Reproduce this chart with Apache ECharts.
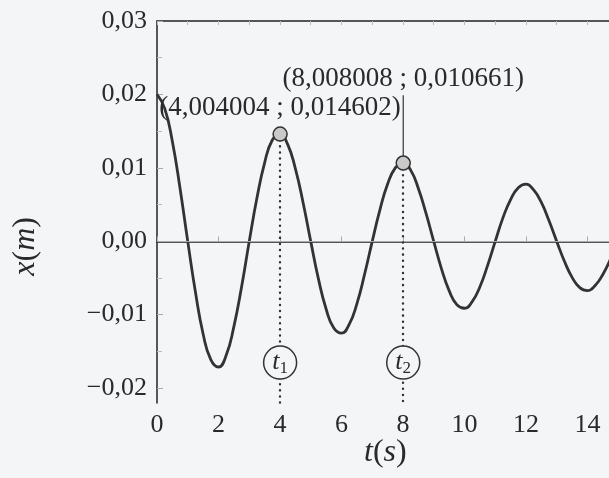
<!DOCTYPE html>
<html>
<head>
<meta charset="utf-8">
<script src="https://cdn.jsdelivr.net/npm/echarts@6/dist/echarts.min.js"></script>
<style>
    html, body { margin: 0; padding: 0; background: #f4f5f7; }
    #chart { width: 609px; height: 478px; }
</style>
</head>
<body>
<div id="chart"></div>
<script>
    // temps (s), pas de 0,25 s
    var tValues = [
        0, 0.25, 0.5, 0.75, 1, 1.25, 1.5, 1.75, 2, 2.25, 2.5, 2.75, 3, 3.25, 3.5, 3.75,
        4, 4.25, 4.5, 4.75, 5, 5.25, 5.5, 5.75, 6, 6.25, 6.5, 6.75, 7, 7.25, 7.5, 7.75,
        8, 8.25, 8.5, 8.75, 9, 9.25, 9.5, 9.75, 10, 10.25, 10.5, 10.75, 11, 11.25, 11.5, 11.75,
        12, 12.25, 12.5, 12.75, 13, 13.25, 13.5, 13.75, 14, 14.25, 14.5, 14.75, 15
    ];
    // élongation x (m)
    var xValues = [
        0.0200, 0.0181, 0.0136, 0.0072, 0.0000, -0.0069, -0.0126, -0.0161,
        -0.0171, -0.0155, -0.0116, -0.0062, 0.0000, 0.0059, 0.0107, 0.0138,
        0.0146, 0.0132, 0.0099, 0.0053, 0.0000, -0.0051, -0.0092, -0.0118,
        -0.0125, -0.0113, -0.0085, -0.0045, 0.0000, 0.0043, 0.0078, 0.0100,
        0.0107, 0.0097, 0.0072, 0.0038, 0.0000, -0.0037, -0.0067, -0.0086,
        -0.0091, -0.0082, -0.0062, -0.0033, 0.0000, 0.0032, 0.0057, 0.0073,
        0.0078, 0.0070, 0.0053, 0.0028, 0.0000, -0.0027, -0.0049, -0.0063,
        -0.0067, -0.0060, -0.0045, -0.0024, 0.0000
    ];
    // maxima repérés
    var peakT = [4.004004, 8.008008];
    var peakX = [0.014602, 0.010661];
    var peakNames = ['1', '2'];
    var xTickLabels = ['0', '2', '4', '6', '8', '10', '12', '14'];

    var serif = 'Liberation Serif';
    var ink = '#2a2a2a';
    var bg = '#f4f5f7';

    function fmt(v, d) {
        var s = Math.abs(v).toFixed(d).replace('.', ',');
        return (v < -1e-9 ? '\u2212' : '') + s;
    }

    var curve = tValues.map(function (t, i) { return [t, xValues[i]]; });

    // pointillés verticaux depuis chaque maximum jusqu'à l'axe
    var dotted = peakT.map(function (t, i) {
        return [{ coord: [t, peakX[i]] }, { coord: [t, -0.022] }];
    });

    var option = {
        backgroundColor: bg,
        animation: false,
        grid: [
            { left: 157, right: 0, top: 21, bottom: 75 },
            { left: 157, right: 0, top: 21, bottom: 90 }
        ],
        xAxis: [
            {
                gridIndex: 0, type: 'value', min: 0, max: 14.7, interval: 2,
                axisLine: { lineStyle: { color: '#222', width: 1.5 } },
                axisTick: { inside: true, length: 5, lineStyle: { color: '#aaa' } },
                minorTick: { show: true, splitNumber: 2, length: 4, lineStyle: { color: '#bbb' } },
                splitLine: { show: false },
                axisLabel: {
                    margin: 9, fontFamily: serif, fontSize: 26, color: ink, showMaxLabel: false,
                    formatter: function (v) { return xTickLabels[v / 2] || ''; }
                }
            },
            {
                gridIndex: 0, type: 'value', position: 'top', min: 0, max: 14.7, interval: 2,
                axisLine: { onZero: false, lineStyle: { color: '#222', width: 1.5 } },
                axisTick: { inside: true, length: 4, lineStyle: { color: '#bbb' } },
                minorTick: { show: true, splitNumber: 2, length: 4, lineStyle: { color: '#bbb' } },
                splitLine: { show: false },
                axisLabel: { show: false }
            },
            {
                gridIndex: 1, type: 'value', min: 0, max: 14.7, show: false
            }
        ],
        yAxis: [
            {
                gridIndex: 0, type: 'value', min: -0.022, max: 0.03,
                axisLine: { show: true, lineStyle: { color: '#222', width: 1.5 } },
                axisTick: { show: false },
                axisLabel: { show: false },
                splitLine: { show: false }
            },
            {
                gridIndex: 1, type: 'value', min: -0.02, max: 0.03, interval: 0.01,
                axisLine: { show: false },
                axisTick: { show: true, inside: true, length: 6, lineStyle: { color: '#aaa' } },
                minorTick: { show: true, splitNumber: 2, length: 5, lineStyle: { color: '#bbb' } },
                splitLine: { show: false },
                axisLabel: {
                    margin: 10, fontFamily: serif, fontSize: 26, color: ink,
                    formatter: function (v) { return fmt(v, 2); }
                }
            }
        ],
        graphic: [
            {
                type: 'text', left: 10, top: 217, rotation: Math.PI / 2,
                style: {
                    text: '{i|x}{n|(}{i|m}{n|)}',
                    rich: {
                        i: { fontFamily: serif, fontStyle: 'italic', fontSize: 32, fill: ink },
                        n: { fontFamily: serif, fontSize: 32, fill: ink }
                    }
                }
            },
            {
                type: 'text', left: 364, top: 437,
                style: {
                    text: '{i|t}{n|(}{i|s}{n|)}',
                    rich: {
                        i: { fontFamily: serif, fontStyle: 'italic', fontSize: 32, fill: ink },
                        n: { fontFamily: serif, fontSize: 32, fill: ink }
                    }
                }
            }
        ],
        series: [
            {
                name: 'x(t)', type: 'line', xAxisIndex: 0, yAxisIndex: 0,
                data: curve, smooth: true, showSymbol: false, z: 3,
                lineStyle: { color: '#333', width: 2.8 },
                markLine: {
                    silent: true, symbol: 'none', label: { show: false },
                    lineStyle: { color: '#aaa', width: 1.2, type: 'solid' },
                    data: [{ yAxis: 0 }]
                }
            },
            {
                name: 'pointillés', type: 'line', xAxisIndex: 0, yAxisIndex: 0,
                data: [], z: 2,
                markLine: {
                    silent: true, symbol: 'none', label: { show: false },
                    lineStyle: { color: '#333', width: 2.4, type: [0.1, 6], cap: 'round' },
                    data: dotted
                }
            },
            {
                // étiquette du 2e maximum avec son trait de rappel
                name: 'rappel', type: 'line', xAxisIndex: 0, yAxisIndex: 0,
                data: [[peakT[1], peakX[1]], [peakT[1], 0.0199]],
                showSymbol: false, z: 4,
                lineStyle: { color: '#333', width: 1.2 }
            },
            {
                name: 'label2', type: 'scatter', xAxisIndex: 0, yAxisIndex: 0,
                data: [[peakT[1], 0.0199]], symbolSize: 0, z: 6,
                itemStyle: { opacity: 1 },
                label: {
                    show: true, position: 'top', distance: 3,
                    fontFamily: serif, fontSize: 27, color: ink,
                    formatter: function () { return '(' + fmt(peakT[1], 6) + ' ; ' + fmt(peakX[1], 6) + ')'; }
                }
            },
            {
                name: 'maxima', type: 'scatter', xAxisIndex: 0, yAxisIndex: 0,
                data: peakT.map(function (t, i) { return [t, peakX[i]]; }),
                symbolSize: 14, z: 6,
                itemStyle: { color: '#c9c9c9', borderColor: '#333', borderWidth: 1.5, opacity: 1 },
                label: {
                    show: true, position: 'top', distance: 5,
                    fontFamily: serif, fontSize: 27, color: ink,
                    formatter: function (p) {
                        return p.dataIndex === 0 ? '(' + fmt(peakT[0], 6) + ' ; ' + fmt(peakX[0], 6) + ')' : '';
                    }
                }
            },
            {
                name: 'repères', type: 'scatter', xAxisIndex: 0, yAxisIndex: 0,
                data: peakT.map(function (t) { return [t, -0.0165]; }),
                symbolSize: 33, z: 6,
                itemStyle: { color: bg, borderColor: '#333', borderWidth: 1.5, opacity: 1 },
                label: {
                    show: true, position: 'inside',
                    formatter: function (p) { return '{t|t}{s|' + peakNames[p.dataIndex] + '}'; },
                    rich: {
                        t: { fontFamily: serif, fontStyle: 'italic', fontSize: 26, color: ink, lineHeight: 26 },
                        s: { fontFamily: serif, fontSize: 17, color: ink, padding: [12, 0, 0, 0], lineHeight: 26 }
                    }
                }
            }
        ]
    };

    var myChart = echarts.init(document.getElementById('chart'));
    myChart.setOption(option);
</script>
</body>
</html>
